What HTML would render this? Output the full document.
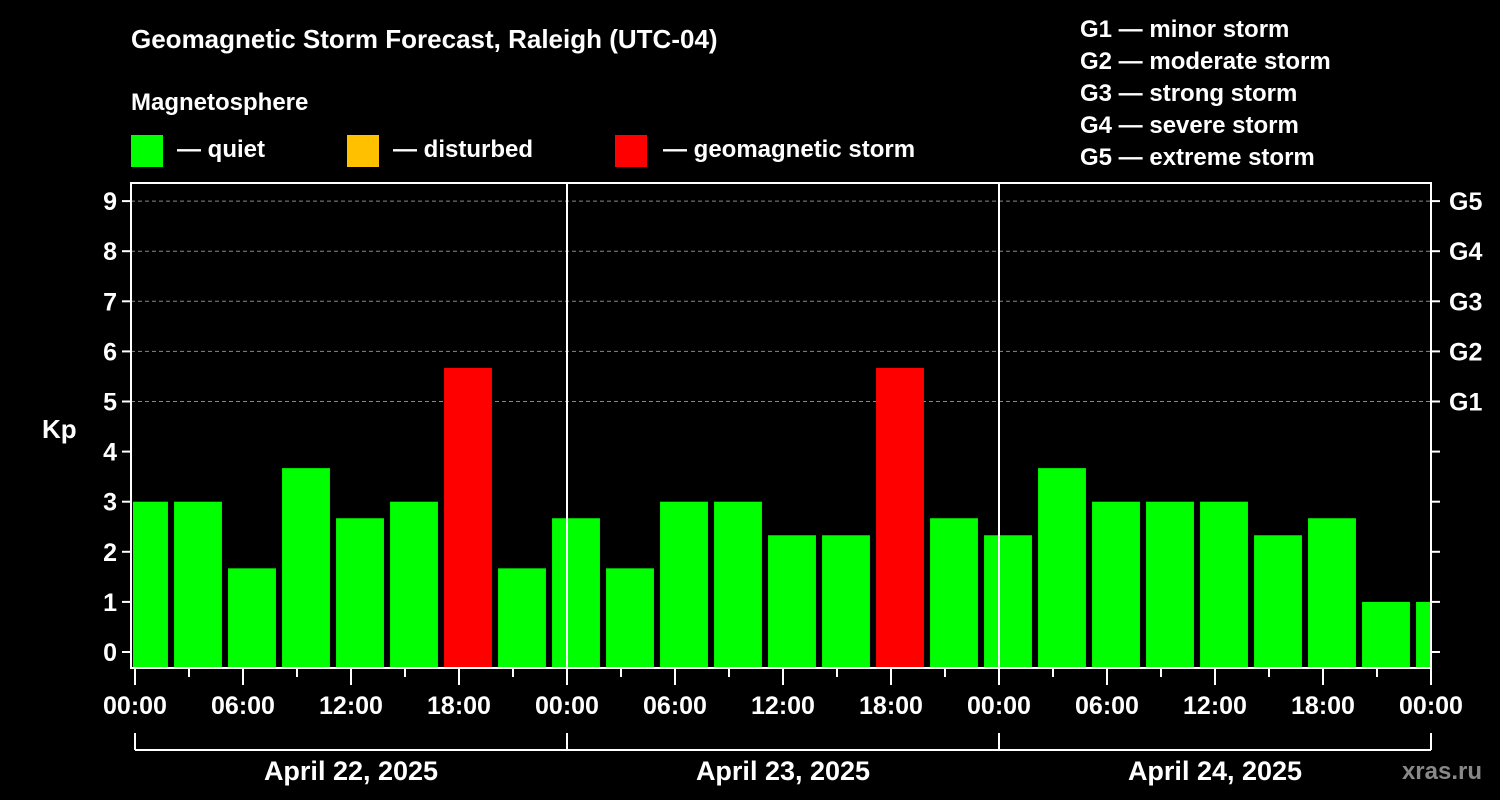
<!DOCTYPE html>
<html><head><meta charset="utf-8"><style>
html,body{margin:0;padding:0;background:#000;}
svg{display:block;font-family:"Liberation Sans",Arial,sans-serif;font-weight:bold;}
</style></head><body>
<svg id="chart" width="1500" height="800" viewBox="0 0 1500 800">
<rect width="1500" height="800" fill="#000"/>
<text x="131" y="48" fill="#fff" font-size="26">Geomagnetic Storm Forecast, Raleigh (UTC-04)</text>
<text x="131" y="110" fill="#fff" font-size="24">Magnetosphere</text>
<g><rect x="131" y="135" width="32" height="32" fill="#00ff00"/><text x="177" y="157" fill="#fff" font-size="24">— quiet</text></g>
<g><rect x="347" y="135" width="32" height="32" fill="#ffc000"/><text x="393" y="157" fill="#fff" font-size="24">— disturbed</text></g>
<g><rect x="615" y="135" width="32" height="32" fill="#ff0000"/><text x="663" y="157" fill="#fff" font-size="24">— geomagnetic storm</text></g>
<g fill="#fff" font-size="24">
<text x="1080" y="37">G1 — minor storm</text>
<text x="1080" y="69">G2 — moderate storm</text>
<text x="1080" y="101">G3 — strong storm</text>
<text x="1080" y="133">G4 — severe storm</text>
<text x="1080" y="165">G5 — extreme storm</text>
</g>
<text x="42" y="438" fill="#fff" font-size="26">Kp</text>
<g id="grid"></g><g id="bars"></g><g id="axes"></g>
<text x="1482" y="779" fill="#888" font-size="24" text-anchor="end">xras.ru</text>
</svg>
<script>
const kpValues = [3,3,1.67,3.67,2.67,3,5.67,1.67,2.67, 1.67,3,3,2.33,2.33,5.67,2.67,2.33, 3.67,3,3,3,2.33,2.67,1,1];
const hourTicks = ["00:00","06:00","12:00","18:00"];
const dayLabels = ["April 22, 2025","April 23, 2025","April 24, 2025"];
const gLabels = ["G1","G2","G3","G4","G5"];
const kpTicks = [0,1,2,3,4,5,6,7,8,9];
const NS="http://www.w3.org/2000/svg";
const X0=135, PXH=18, L=131, R=1431, T=183, B=668;
const xs=h=>X0+h*PXH;
const ys=k=>652-k*50.1;
function mk(tag,attrs,parent){const e=document.createElementNS(NS,tag);for(const k in attrs)e.setAttribute(k,attrs[k]);parent.appendChild(e);return e;}
const grid=document.getElementById('grid'),bars=document.getElementById('bars'),axes=document.getElementById('axes');
const cp=mk('clipPath',{id:'pc'},grid);mk('rect',{x:L+2,y:T,width:R-L-3,height:B-T},cp);
for(let k=5;k<=9;k++){const l=mk('line',{x1:L,x2:R,y1:ys(k),y2:ys(k),stroke:'#888','stroke-dasharray':'4,3','stroke-width':1},grid);

}
kpValues.forEach((v,i)=>{const c=0.5+3*i;const col=v>=5?'#ff0000':(v>=4?'#ffc000':'#00ff00');
const r=mk('rect',{x:xs(c-1.33),y:ys(v),width:xs(c+1.33)-xs(c-1.33),height:B-ys(v),fill:col,'clip-path':'url(#pc)'},bars);

});
[1,2].forEach(d=>{const l=mk('line',{x1:xs(24*d),x2:xs(24*d),y1:T,y2:B,stroke:'#fff','stroke-width':2},axes);

});
const fr=mk('rect',{x:L,y:T,width:R-L,height:B-T,fill:'none',stroke:'#fff','stroke-width':2},axes);


kpTicks.forEach(k=>{mk('line',{x1:L-9,x2:L,y1:ys(k),y2:ys(k),stroke:'#fff','stroke-width':2},axes);
mk('line',{x1:R,x2:R+9,y1:ys(k),y2:ys(k),stroke:'#fff','stroke-width':2},axes);
const t=mk('text',{x:L-14,y:ys(k)+9,fill:'#fff','font-size':25,'text-anchor':'end'},axes);t.textContent=k;

});
gLabels.forEach((g,i)=>{const t=mk('text',{x:1449,y:ys(5+i)+9,fill:'#fff','font-size':25},axes);t.textContent=g;

});
for(let h=0;h<=72;h+=3){const maj=h%6===0;mk('line',{x1:xs(h),x2:xs(h),y1:B,y2:B+(maj?17:9),stroke:'#fff','stroke-width':2},axes);
if(maj){const t=mk('text',{x:xs(h),y:714,fill:'#fff','font-size':25,'text-anchor':'middle'},axes);t.textContent=hourTicks[(h/6)%4];

}}
mk('line',{x1:xs(0),x2:xs(72),y1:750,y2:750,stroke:'#fff','stroke-width':2},axes);
for(let d=0;d<=3;d++)mk('line',{x1:xs(24*d),x2:xs(24*d),y1:733,y2:750,stroke:'#fff','stroke-width':2},axes);
dayLabels.forEach((s,d)=>{const t=mk('text',{x:xs(24*d+12),y:780,fill:'#fff','font-size':27,'text-anchor':'middle'},axes);t.textContent=s;

});
</script>
</body></html>
